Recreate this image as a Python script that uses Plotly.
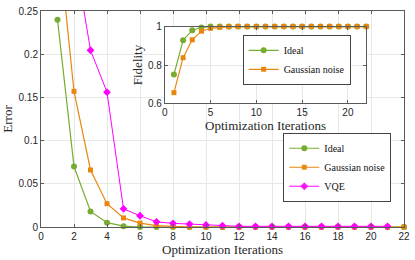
import numpy as np
import plotly.graph_objects as go

# ---------------- data ----------------
iters = list(range(1, 23))
iters_vqe = list(range(1, 22))

err_ideal = [0.24, 0.07, 0.018, 0.005, 0.001, 0, 0, 0, 0, 0, 0,
             0, 0, 0, 0, 0, 0, 0, 0, 0, 0, 0]
err_gauss = [0.344, 0.157, 0.066, 0.027, 0.0105, 0.0045, 0.0015, 0.0005, 0, 0, 0,
             0, 0, 0, 0, 0, 0, 0, 0, 0, 0, 0]
err_vqe = [0.45, 0.32, 0.2046, 0.156, 0.021, 0.013, 0.006, 0.0042, 0.0034, 0.0023,
           0.0015, 0.0008, 0.0008, 0.0008, 0.0008, 0.0008, 0.0008, 0.0008, 0.0008,
           0.0008, 0.0008]

fid_ideal = [0.75, 0.929, 0.981, 0.995, 1, 1, 1, 1, 1, 1, 1,
             1, 1, 1, 1, 1, 1, 1, 1, 1, 1, 1]
fid_gauss = [0.656, 0.838, 0.931, 0.976, 0.991, 0.996, 0.999, 1, 1, 1, 1,
             1, 1, 1, 1, 1, 1, 1, 1, 1, 1, 1]

series_names = ["Ideal", "Gaussian noise", "VQE"]

# ---------------- style ----------------
GREEN = "#77AC30"
ORANGE = "#E8870E"
MAGENTA = "#FF00FF"
SANS = "Liberation Sans, Arial, sans-serif"
SERIF = "Liberation Serif, Times New Roman, serif"
YMAX = 0.25


def vis(vals):
    return np.where(np.array(vals) <= YMAX + 1e-9, 1.0, 0.0)


fig = go.Figure()

# main plot
fig.add_trace(go.Scatter(x=iters, y=err_ideal, name=series_names[0], mode="lines+markers",
                         line=dict(color=GREEN, width=1.2),
                         marker=dict(symbol="circle", size=6, color=GREEN, opacity=vis(err_ideal)),
                         cliponaxis=False, legend="legend"))
fig.add_trace(go.Scatter(x=iters, y=err_gauss, name=series_names[1], mode="lines+markers",
                         line=dict(color=ORANGE, width=1.2),
                         marker=dict(symbol="square", size=5, color=ORANGE, opacity=vis(err_gauss)),
                         cliponaxis=False, legend="legend"))
fig.add_trace(go.Scatter(x=iters_vqe, y=err_vqe, name=series_names[2], mode="lines+markers",
                         line=dict(color=MAGENTA, width=1),
                         marker=dict(symbol="diamond", size=6, color=MAGENTA, opacity=vis(err_vqe)),
                         cliponaxis=False, legend="legend"))

# inset
fig.add_trace(go.Scatter(x=iters, y=fid_ideal, name=series_names[0], mode="lines+markers",
                         line=dict(color=GREEN, width=1.2),
                         marker=dict(symbol="circle", size=6, color=GREEN),
                         cliponaxis=False, xaxis="x2", yaxis="y2", legend="legend2"))
fig.add_trace(go.Scatter(x=iters, y=fid_gauss, name=series_names[1], mode="lines+markers",
                         line=dict(color=ORANGE, width=1.2),
                         marker=dict(symbol="square", size=5, color=ORANGE),
                         cliponaxis=False, xaxis="x2", yaxis="y2", legend="legend2"))

axis_common = dict(
    showline=True, linecolor="#5a5a5a", linewidth=1, mirror="allticks",
    ticks="inside", ticklen=3, tickcolor="#5a5a5a",
    showgrid=True, gridcolor="#e8e8e8", gridwidth=1, zeroline=False,
    tickfont=dict(family=SANS, size=10, color="#262626"),
    ticklabeloverflow="allow",
)

fig.update_layout(
    width=415, height=260,
    margin=dict(l=40, r=8, t=5, b=33),
    paper_bgcolor="white", plot_bgcolor="white",
    showlegend=True,
    xaxis=dict(range=[0, 22], tick0=0, dtick=2, domain=[0, 1],
               title=dict(text="Optimization Iterations", font=dict(family=SERIF, size=13, color="#262626"),
                          standoff=2),
               **axis_common),
    yaxis=dict(range=[0, YMAX], tick0=0, dtick=0.05, domain=[0, 1],
               title=dict(text="Error", font=dict(family=SERIF, size=13, color="#262626"), standoff=4),
               **axis_common),
    xaxis2=dict(range=[0, 22], tick0=0, dtick=5, domain=[0.341, 0.896], anchor="y2",
                title=dict(text="Optimization Iterations", font=dict(family=SERIF, size=13, color="#262626"),
                           standoff=2),
                **axis_common),
    yaxis2=dict(range=[0.6, 1], tick0=0.6, dtick=0.2, domain=[0.572, 0.928], anchor="x2",
                title=dict(text="Fidelity", font=dict(family=SERIF, size=13, color="#262626"), standoff=2),
                **axis_common),
    legend=dict(x=0.965, y=0.117, xanchor="right", yanchor="bottom",
                bgcolor="white", bordercolor="#444", borderwidth=1,
                font=dict(family=SERIF, size=10, color="#111"),
                tracegroupgap=0),
    legend2=dict(x=0.853, y=0.658, xanchor="right", yanchor="bottom", xref="paper", yref="paper",
                 bgcolor="white", bordercolor="#444", borderwidth=1,
                 font=dict(family=SERIF, size=10, color="#111"),
                 tracegroupgap=0),
)

fig.write_html("out.html", config={"displayModeBar": False},
               post_script="document.body.style.margin='0';document.body.style.padding='0';")
